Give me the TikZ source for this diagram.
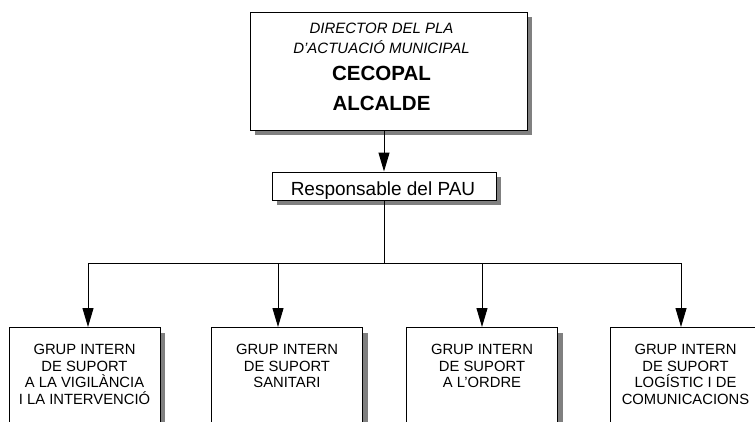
\documentclass[tikz,border=0pt]{standalone}
\usepackage{fontspec}
\setmainfont{Liberation Sans}
\usetikzlibrary{arrows.meta,shadows}
\definecolor{shadowgray}{HTML}{808080}
\tikzset{
  box/.style={draw=black, line width=1pt, fill=white, inner sep=0pt,
    drop shadow={shadow xshift=5pt, shadow yshift=-5pt, fill=shadowgray, opacity=1}},
  conn/.style={draw=black, line width=1pt},
  arr/.style={conn, -{Triangle[length=19pt,width=11pt]}},
  grpbox/.style={box, anchor=north, minimum width=151pt, minimum height=130pt},
  grptext/.style={font=\fontsize{14.8}{16.7}\selectfont, align=center, inner sep=0pt, anchor=north},
  dirital/.style={anchor=base, inner sep=0pt, font=\fontsize{15}{18}\selectfont\itshape},
  dirbold/.style={anchor=base, inner sep=0pt, font=\fontsize{20.5}{24}\selectfont\bfseries},
}
\begin{document}
\begin{tikzpicture}[x=1pt,y=-1pt]
\useasboundingbox (0,0) rectangle (755,421);
\clip (0,0) rectangle (755,421);
% top box
\node[box, minimum width=277pt, minimum height=118pt] (dir) at (388.5,71) {};
\node[dirital] (d1) at (381.5,33) {DIRECTOR DEL PLA};
\node[dirital] (d2) at (381.5,53) {D\char39ACTUACIÓ MUNICIPAL};
\node[dirbold] (d3) at (381.5,80) {CECOPAL};
\node[dirbold] (d4) at (381.5,110) {ALCALDE};
% responsable
\node[box, minimum width=224pt, minimum height=28pt] (resp) at (384,186) {};
\node[anchor=base, inner sep=0pt, font=\fontsize{19}{22}\selectfont] (respt) at (383,195) {Responsable del PAU};
% groups
\node[grpbox] (g1) at (84.5,327) {};
\node[grpbox] (g2) at (287,327) {};
\node[grpbox] (g3) at (482,327) {};
\node[grpbox] (g4) at (685.5,327) {};
\node[grptext] (g1t) at (84.5,344) {GRUP INTERN\\DE SUPORT\\A LA VIGILÀNCIA\\I LA INTERVENCIÓ};
\node[grptext] (g2t) at (287,344) {GRUP INTERN\\DE SUPORT\\SANITARI};
\node[grptext] (g3t) at (482,344) {GRUP INTERN\\DE SUPORT\\A L\char39ORDRE};
\node[grptext] (g4t) at (685.5,344) {GRUP INTERN\\DE SUPORT\\LOGÍSTIC I DE\\COMUNICACIONS};
% connectors
\draw[arr] (resp.north |- dir.south) -- (resp.north);
\coordinate (bus) at (384,263);
\coordinate (t1) at (88,263);
\coordinate (t2) at (278,263);
\coordinate (t3) at (482,263);
\coordinate (t4) at (681,263);
\draw[conn] (resp.south) -- (bus);
\draw[conn] (t1) -- (t4);
\draw[arr] (t1) -- (t1 |- g1.north);
\draw[arr] (t2) -- (t2 |- g2.north);
\draw[arr] (t3) -- (t3 |- g3.north);
\draw[arr] (t4) -- (t4 |- g4.north);
\end{tikzpicture}
\end{document}
